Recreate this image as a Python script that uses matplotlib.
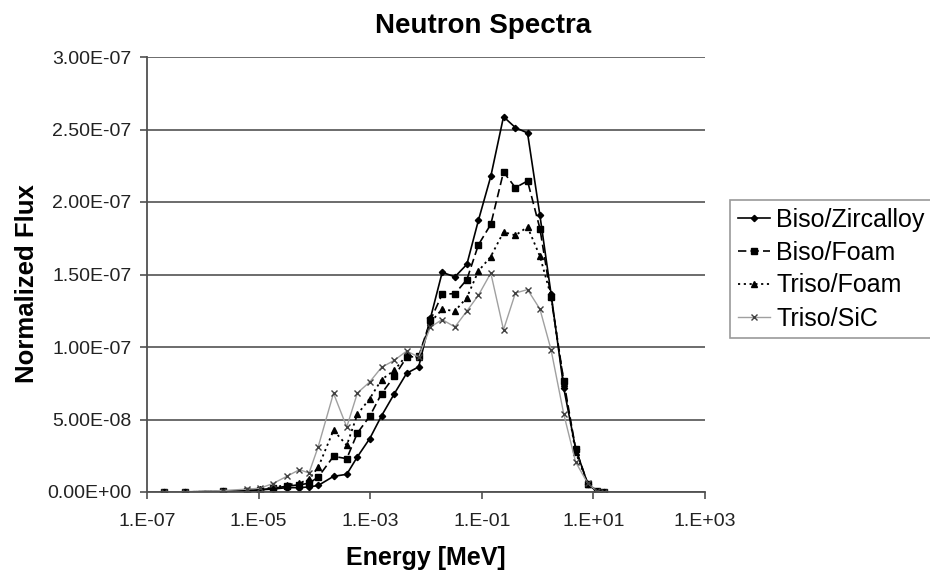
import numpy as np
import matplotlib
matplotlib.use("Agg")
import matplotlib.pyplot as plt
from matplotlib.ticker import FixedLocator, FuncFormatter, NullLocator

plt.rcParams['font.family'] = ['Liberation Sans', 'DejaVu Sans']

# energy grid [MeV]
energy = [2.0e-7, 4.8e-7, 2.3e-6, 6.3e-6, 1.05e-5, 1.8e-5, 3.2e-5, 5.4e-5, 8.0e-5,
          1.17e-4, 2.2e-4, 3.8e-4, 5.9e-4, 9.8e-4, 1.6e-3, 2.7e-3, 4.5e-3, 7.4e-3,
          1.2e-2, 1.95e-2, 3.3e-2, 5.4e-2, 8.7e-2, 0.145, 0.245, 0.40, 0.66,
          1.10, 1.74, 2.95, 4.8, 7.9, 11.7, 15.8]

# normalized flux, units of 1e-8
biso_zirc = [0.0, 0.0, 0.05, 0.1, 0.15, 0.2, 0.3, 0.3, 0.35,
             0.45, 1.08, 1.22, 2.43, 3.68, 5.26, 6.77, 8.19, 8.63,
             11.98, 15.15, 14.84, 15.70, 18.74, 21.77, 25.88, 25.13, 24.76,
             19.08, 13.68, 7.15, 2.99, 0.58, 0.01, 0.0]
biso_foam = [0.0, 0.0, 0.05, 0.1, 0.15, 0.25, 0.4, 0.5, 0.6,
             1.03, 2.46, 2.30, 4.07, 5.22, 6.79, 7.98, 9.29, 9.36,
             11.84, 13.64, 13.68, 14.65, 17.05, 18.46, 22.07, 20.99, 21.45,
             18.17, 13.43, 7.63, 2.99, 0.58, 0.05, 0.0]
triso_foam = [0.0, 0.0, 0.05, 0.1, 0.2, 0.3, 0.5, 0.6, 0.9,
              1.70, 4.26, 3.22, 5.36, 6.44, 7.75, 8.39, 9.43, 9.31,
              11.70, 12.60, 12.48, 13.41, 15.24, 16.24, 17.93, 17.70, 18.28,
              16.26, 13.50, 7.50, 2.74, 0.58, 0.05, 0.0]
triso_sic = [0.01, 0.02, 0.1, 0.2, 0.26, 0.58, 1.08, 1.54, 1.31,
             3.12, 6.81, 4.48, 6.83, 7.59, 8.60, 9.08, 9.72, 9.31,
             11.38, 11.89, 11.38, 12.48, 13.57, 15.10, 11.19, 13.72, 13.96,
             12.62, 9.82, 5.36, 2.07, 0.60, 0.05, 0.0]

xticks = [1e-7, 1e-5, 1e-3, 1e-1, 1e1, 1e3]
yticks = [0, 5e-8, 1e-7, 1.5e-7, 2e-7, 2.5e-7, 3e-7]


def xfmt(v, pos):
    e = int(round(np.log10(v)))
    return "1.E%s%02d" % ("+" if e >= 0 else "-", abs(e))


def yfmt(v, pos):
    if v == 0:
        return "0.00E+00"
    return "%.2E" % v


fig = plt.figure(figsize=(9.3, 5.75), dpi=100)
ax = fig.add_axes([147/930, 1-492/575, (705-147)/930, (492-57)/575])

E = np.array(energy)
series = [
    ("Biso/Zircalloy", biso_zirc, dict(color="black", ls="-", lw=1.2, marker="D", ms=3.2)),
    ("Biso/Foam", biso_foam, dict(color="black", ls=(0, (5, 2.5)), lw=1.2, marker="s", ms=4.5)),
    ("Triso/Foam", triso_foam, dict(color="black", ls=(0, (1.2, 2)), lw=1.3, marker="^", ms=4.5)),
    ("Triso/SiC", triso_sic, dict(color="#a0a0a0", ls="-", lw=1.0, marker="x", ms=5,
                                   mec="#404040", mew=1.0)),
]
for name, vals, st in series:
    ax.plot(E, np.array(vals)*1e-8, label=name, **st)

ax.set_xscale("log")
ax.set_xlim(1e-7, 1e3)
ax.set_ylim(0, 3e-7)
ax.xaxis.set_major_locator(FixedLocator(xticks))
ax.xaxis.set_minor_locator(NullLocator())
ax.xaxis.set_major_formatter(FuncFormatter(xfmt))
ax.yaxis.set_major_locator(FixedLocator(yticks))
ax.yaxis.set_major_formatter(FuncFormatter(yfmt))

ax.grid(axis="y", color="#606060", lw=1.3)
ax.set_axisbelow(True)
for s in ["top", "right"]:
    ax.spines[s].set_visible(False)
for s in ["left", "bottom"]:
    ax.spines[s].set_color("#505050")
    ax.spines[s].set_linewidth(1.3)
ax.tick_params(axis="both", direction="out", length=5, width=1.2, color="#505050",
               labelsize=14, labelcolor="#222222")
ax.tick_params(axis="x", pad=10)
ax.tick_params(axis="y", pad=6)

ax.set_xlabel("Energy [MeV]", fontsize=18, fontweight="bold", labelpad=12)
fig.text(27/930, 1-284/575, "Normalized Flux", fontsize=18.5, fontweight="bold",
         rotation=90, ha="center", va="center")
fig.text(483/930, 1-26/575, "Neutron Spectra", fontsize=20, fontweight="bold",
         ha="center", va="center")

leg = ax.legend(loc="upper left", bbox_to_anchor=(730/930, 1-200/575),
                bbox_transform=fig.transFigure, fontsize=18, frameon=True,
                fancybox=False, edgecolor="#808080", handlelength=1.3,
                borderpad=0.3, labelspacing=0.36, handletextpad=0.25,
                borderaxespad=0)
leg.get_frame().set_linewidth(1.2)

fig.savefig("out.png", dpi=100)
